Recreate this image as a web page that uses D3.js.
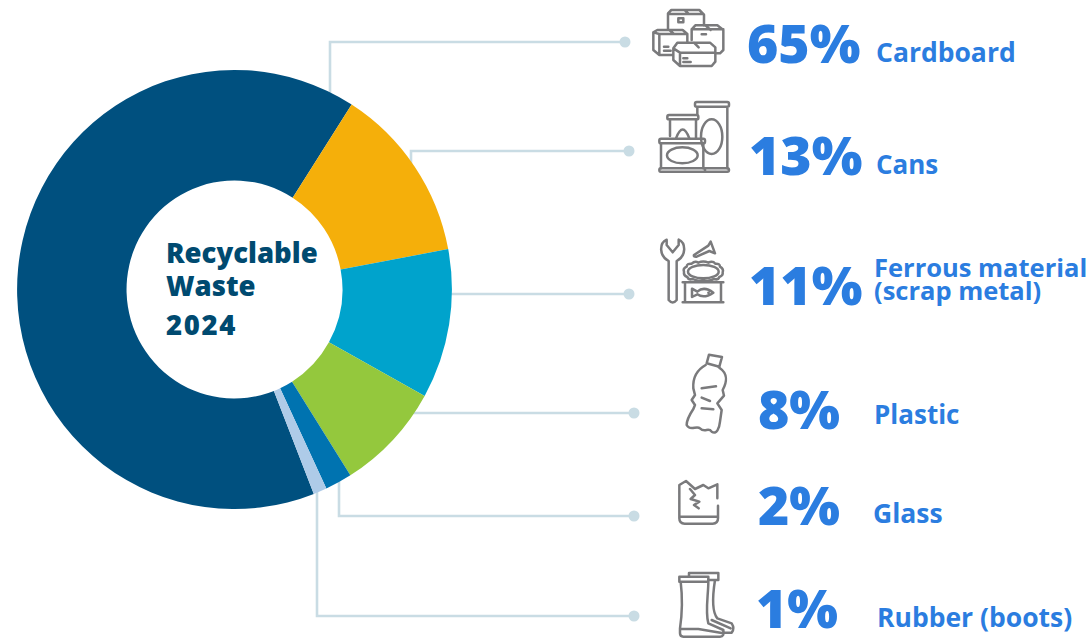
<!DOCTYPE html>
<html>
<head>
<meta charset="utf-8">
<script src="https://cdnjs.cloudflare.com/ajax/libs/d3/7.8.5/d3.min.js"></script>
<style>
html,body{margin:0;padding:0;background:#fff;}
svg{display:block;}
text{font-family:"Open Sans",sans-serif;font-weight:700;}
</style>
</head>
<body>
<svg id="chart" width="1091" height="639"></svg>
<script>
// Recyclable waste shares, 2024
const categories = ["Cardboard", "Cans", "Ferrous material", "Plastic", "Glass", "Rubber (boots)"];
const shares = [65, 13, 11, 8, 2, 1];
const sliceColors = ["#00507f", "#f5af0a", "#00a3cc", "#94c83d", "#0073b0", "#aecbe8"];
const centerLines = ["Recyclable", "Waste", "2024"];

// Right-hand column layout, one entry per category
const rowLineY = [42, 151, 294, 413, 516, 616];
const rowElbowX = [330, 411, null, null, 339, 317];
const rowDotX = [625, 629, 629, 634, 634, 634];
const rowPctX = [747, 749, 749, 758, 758, 756];
const rowPctY = [63, 175, 305, 429, 525, 628];
const rowNameX = [876, 876, 874, 874, 873, 877];
const rowNameY = [62, 174, 277, 424, 523, 627];
const rowNameSize = [26.5, 26, 25.5, 26, 26.5, 26.5];

const svg = d3.select("#chart");
const cx = 234.5, cy = 289.5, outerR = 218.5, innerR = 108.5;
const slice = d3.arc().innerRadius(innerR).outerRadius(outerR);
const pie = d3.pie().sort(null).value(d => d)
  .startAngle(158.6 * Math.PI / 180).endAngle(518.6 * Math.PI / 180);

// Leaders sit behind the ring and end under it
const hidden = outerR - 10;
const leaders = svg.append("g").attr("fill", "none").attr("stroke", "#c9dce4").attr("stroke-width", 2.6);
rowLineY.forEach((y, i) => {
  const ex = rowElbowX[i];
  let pts;
  if (ex === null) {
    const lx = cx + Math.sqrt(hidden * hidden - (y - cy) * (y - cy));
    pts = [[lx, y], [rowDotX[i], y]];
  } else {
    const dy = Math.sqrt(hidden * hidden - (ex - cx) * (ex - cx));
    const ey = y < cy ? cy - dy : cy + dy;
    pts = [[ex, ey], [ex, y], [rowDotX[i], y]];
  }
  leaders.append("path").attr("d", d3.line()(pts));
  svg.append("circle").attr("cx", rowDotX[i]).attr("cy", y).attr("r", 5.5).attr("fill", "#c9dce4");
});

// Ring, very slightly taller than wide
svg.append("g").attr("transform", `translate(${cx},${cy}) scale(0.995,1.005)`)
  .selectAll("path").data(pie(shares)).join("path")
  .attr("d", slice)
  .attr("fill", (d, i) => sliceColors[i]);

// Centre caption
const centerY = [263, 296, 335];
const centerSpacing = [0, 0, 1.6];
svg.append("g").selectAll("text").data(centerLines).join("text")
  .attr("x", 166).attr("y", (d, i) => centerY[i])
  .attr("letter-spacing", (d, i) => centerSpacing[i])
  .attr("font-size", 27.5).style("font-weight", 800).attr("fill", "#004a70").text(d => d);

// Percentages and names
svg.append("g").selectAll("text").data(shares).join("text")
  .attr("x", (d, i) => rowPctX[i]).attr("y", (d, i) => rowPctY[i])
  .attr("font-size", 53.5).style("font-weight", 800).attr("fill", "#2b7de0").text(d => d + "%");

const nameG = svg.append("g").attr("fill", "#2b7de0");
nameG.selectAll("text").data(categories).join("text")
  .attr("x", (d, i) => rowNameX[i]).attr("y", (d, i) => rowNameY[i])
  .attr("font-size", (d, i) => rowNameSize[i]).text(d => d);
nameG.append("text").attr("x", 874).attr("y", 300).attr("font-size", 25.5).text("(scrap metal)");

// Outline pictograms, drawn in a 3x grid and scaled down
function icon(ox, oy, paths) {
  const g = svg.append("g").attr("transform", `translate(${ox},${oy}) scale(${1 / 3})`)
    .attr("fill", "none").attr("stroke", "#7a7a7c").attr("stroke-width", 7.5)
    .attr("stroke-linejoin", "round").attr("stroke-linecap", "round");
  paths.forEach(p => g.append("path").attr("d", p));
}
const ell = (x, y, rx, ry) => `M${x - rx} ${y}A${rx} ${ry} 0 1 0 ${x + rx} ${y}A${rx} ${ry} 0 1 0 ${x - rx} ${y}Z`;

// Boxes
icon(640, 0, [
  "M84 88V40L94 30H178L192 44V76M84 42H190M134 30L146 42M115 55H130V67H115Z",
  "M40 97L52 90H128L142 102V125M142 102H58L40 97V150L58 165H98M58 165V102M88 90L102 102M72 140H85M72 152H92",
  "M155 120V88L166 76H232L250 90V150L240 160H230M155 88H250M196 76L212 90M185 103H198",
  "M100 145L112 128H210L226 142V185L215 198H120L100 180ZM100 145L120 158H226M120 158V198M162 128L176 142M130 175H142M130 186H152"
]);
// Cans
icon(640, 0, [
  "M170 306H262Q267 306 267 311V316Q267 320 262 320H170Q165 320 165 316V311Q165 306 170 306ZM262 320V505M172 320V342",
  ell(215, 410, 32, 52),
  "M87 345H170Q175 345 175 350V354Q175 358 170 358H87Q82 358 82 354V350Q82 345 87 345ZM90 358V408M168 358V415M108 415Q128 362 148 415",
  "M63 416H190Q195 416 195 421V425Q195 430 190 430H63Q58 430 58 425V421Q58 416 63 416ZM63 430V505M190 430V505",
  ell(127, 466, 46, 24),
  "M62 505H262Q267 505 267 510Q267 515 262 515H62Q58 515 58 510Q58 505 62 505ZM195 505V515"
]);
// Wrench, nail and opened tin
icon(640, 225, [
  "M80 44C58 54 56 92 86 108V225Q98 240 110 225V108C140 92 138 54 116 44V60L98 82L80 60Z",
  "M162 90L205 62L212 50L225 85L208 78L170 95Q160 96 162 90Z",
  "M132 140Q128 130 140 125Q140 115 155 116Q165 106 175 113Q190 106 205 113Q218 106 226 116Q240 115 240 125Q252 132 248 142Q250 152 238 156Q234 166 222 162Q205 170 190 165Q172 170 158 162Q146 166 142 156Q130 152 132 140Z",
  ell(190, 140, 46, 20),
  "M128 172H250M135 172V232M243 172V232M128 232H250",
  "M156 191L172 200Q192 182 220 203Q192 222 172 208L156 216ZM205 203H206"
]);
// Crushed bottle
icon(640, 225, [
  "M207 389L246 396L238 425L200 415Z",
  "M197 420C170 435 158 460 160 490L165 510L155 525L165 540L160 552C148 570 140 585 140 600C150 620 170 600 180 610C195 625 205 605 215 620C230 630 238 610 240 590L245 555L232 535L252 512L248 495C262 470 262 445 240 430L235 424",
  "M185 490L228 484M185 518L210 528M185 550L220 553"
]);
// Broken glass
icon(640, 465, [
  "M232 100V58L205 70L190 60L165 72L138 48L118 60V160Q118 176 134 176H218Q234 176 234 160V122M118 155H234M150 72L165 90L152 102L178 110L162 120L176 130"
]);
// Rubber boots
icon(640, 465, [
  "M118 335H205V350H118ZM122 350C128 400 126 450 120 490V505Q120 515 130 515H240Q254 515 250 495L205 475C195 440 205 390 205 350M120 492H175L250 505",
  "M147 335V324H235V345H205M225 345C218 390 215 440 232 460L275 475Q285 490 275 503H252M215 465L272 490"
]);
</script>
</body>
</html>
